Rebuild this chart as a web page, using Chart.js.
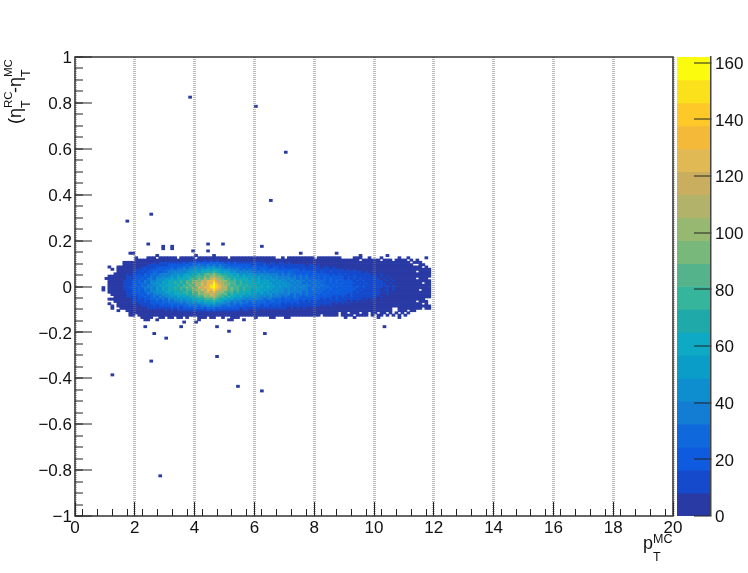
<!DOCTYPE html>
<html>
<head>
<meta charset="utf-8">
<title>eta resolution vs pT</title>
<script src="https://cdn.jsdelivr.net/npm/chart.js@4"></script>
<style>
  html, body { margin: 0; padding: 0; background: #fff; }
  #main { position: absolute; left: 0; top: 0; }
  #bar { position: absolute; left: 677px; top: 0; }
</style>
</head>
<body>
<canvas id="main" width="748" height="573"></canvas>
<canvas id="bar" width="71" height="573"></canvas>
<script>
// bin widths of the histogram
const binX = 0.1;
const binY = 0.01;
const firstBin = 9; // first column of the rows below is pT = 0.9

// counts per cell, one list per eta row (p12 = 0.12..0.13, m3 = -0.03..-0.02)
const p12 = [0,0,0,0,0,0,0,0,0,0, 0,1,0,0,0,1,1,1,0,1, 1,1,1,1,1,0,1,1,1,1, 1,0,1,1,1,2,1,2,1,1, 1,1,0,1,1,2,1,1,1,2, 1,1,1,2,1,1,1,1,0,0, 1,0,1,1,1,2,1,1,1,1, 1,0,1,1,1,1,1,1,1,1, 0,0,0,0,1,1,1,0,0,1, 0,0,0,1,0,0,0,0,0,1, 0,0,1,0,0,0,0,0,1,0,0];
const p11 = [0,0,0,0,0,0,0,0,0,0, 0,1,1,2,3,2,4,3,3,5, 4,6,5,4,7,6,5,7,8,6, 7,9,6,8,10,8,9,7,9,8, 6,8,7,5,7,6,4,6,5,6, 4,5,6,3,5,4,5,3,4,4, 3,4,2,4,3,2,3,4,2,3, 2,3,1,2,3,2,1,2,2,1, 1,2,1,1,2,1,0,1,1,1, 1,1,1,0,1,1,1,0,1,1, 1,1,0,1,0,1,0,0,0,0,0];
const p10 = [0,0,0,0,0,0,0,1,1,2, 2,3,4,3,6,5,7,9,8,11, 10,12,14,11,16,13,15,18,14,19, 17,22,18,24,20,23,26,21,25,18, 20,16,19,14,17,15,12,14,13,11, 13,9,12,10,11,8,10,11,8,9, 10,7,9,8,6,8,7,5,7,6, 5,6,4,5,6,4,5,3,4,5, 3,4,2,3,3,2,4,2,2,3, 2,1,2,2,1,1,2,1,1,1, 1,1,1,0,1,1,1,0,0,0,0];
const p9 = [0,0,0,0,0,0,0,1,2,2, 4,4,6,7,6,10,9,12,14,11, 16,15,19,17,21,18,24,20,26,23, 28,25,33,27,31,36,30,37,29,33, 25,28,22,24,19,23,21,17,20,18, 15,19,16,14,18,13,15,16,12,14, 11,13,14,10,12,9,11,10,8,10, 9,7,9,8,6,8,7,6,7,5, 6,5,4,6,4,3,5,4,2,4, 3,2,3,3,1,2,3,1,2,1, 2,1,1,1,0,0,1,1,0,0,0];
const p8 = [0,0,1,0,0,2,2,3,3,5, 6,7,8,11,9,13,16,14,18,21, 19,24,21,27,24,30,26,33,29,36, 34,41,37,45,39,48,43,51,40,46, 36,32,38,28,31,26,29,24,27,22, 25,20,23,18,21,22,16,19,17,15, 18,13,16,14,12,15,11,13,12,10, 11,9,12,8,10,9,7,9,8,6, 7,8,5,7,5,6,4,6,5,3, 5,3,4,2,3,3,2,3,2,2, 2,1,2,1,1,1,1,0,1,0,0];
const p7 = [0,0,0,1,0,2,3,4,6,5, 8,11,10,14,17,15,20,23,19,27, 24,30,27,34,30,37,33,41,36,45, 43,50,46,55,52,62,55,64,58,54, 47,42,48,36,39,34,31,37,28,33, 26,30,24,28,29,22,25,27,20,23, 19,22,24,17,20,18,15,19,16,14, 16,13,15,12,14,11,13,10,12,9, 11,8,10,7,9,8,7,8,5,7, 6,4,6,5,4,5,3,4,3,2, 3,2,2,1,2,1,1,1,1,1,0];
const p6 = [0,0,0,0,0,2,3,6,5,8, 11,9,14,17,15,22,20,26,29,24, 32,29,36,33,41,37,44,39,48,54, 50,59,55,66,60,71,66,80,68,64, 56,61,50,45,52,39,43,37,41,34, 38,31,35,28,36,26,32,29,25,30, 27,23,25,28,20,23,18,22,19,21, 17,20,15,18,13,16,19,12,15,13, 14,10,13,12,9,11,10,8,9,7, 9,6,7,6,5,6,4,5,3,4, 3,3,3,2,3,0,2,1,1,1,0];
const p5 = [0,0,0,0,1,2,4,5,9,8, 14,12,19,16,25,22,29,33,27,38, 34,41,38,47,43,51,46,56,60,54, 69,62,76,71,84,90,82,101,86,78, 71,66,57,62,50,58,45,54,43,49, 41,46,37,44,34,41,36,33,38,30, 34,28,33,26,30,24,28,22,27,21, 24,20,23,17,21,19,16,20,14,18, 15,17,12,15,13,11,14,9,12,10, 8,10,7,9,8,6,7,5,6,4, 4,3,4,3,3,2,2,1,2,1,0];
const p4 = [0,0,1,1,2,4,4,7,10,11, 13,19,17,24,27,23,33,30,39,36, 44,40,48,54,47,59,52,63,57,72, 66,79,84,75,96,88,104,112,95,90, 82,74,66,72,59,67,52,60,55,49, 53,46,51,43,48,41,46,38,43,36, 40,33,38,31,35,29,36,26,33,24, 29,23,27,21,25,22,19,23,17,21, 18,16,19,14,17,13,16,11,13,12, 10,12,8,10,7,9,6,7,6,5, 5,4,5,3,4,2,2,2,1,1,0];
const p3 = [0,1,2,2,3,5,5,8,11,14, 15,21,18,27,24,33,37,31,44,41, 47,53,49,59,54,66,61,70,64,80, 86,75,95,88,108,97,117,126,106,98, 90,79,85,70,74,64,68,59,66,55, 61,50,57,47,54,44,52,41,47,38, 45,36,41,33,39,30,37,28,35,26, 32,24,31,22,28,21,26,19,24,17, 23,16,21,15,19,13,17,12,15,10, 14,9,12,8,11,7,9,6,8,5, 5,4,5,3,4,0,3,1,2,0,0];
const p2 = [0,0,2,3,4,5,7,9,13,13, 20,17,26,23,34,30,41,37,48,44, 55,50,62,57,67,61,74,69,82,77, 92,103,94,115,106,122,131,140,116,108, 99,105,84,76,83,69,74,63,70,58, 66,53,60,56,51,58,47,54,44,50, 41,47,39,45,35,42,33,38,30,36, 27,33,29,25,31,23,28,21,26,19, 23,20,18,21,16,19,14,17,12,15, 11,13,10,12,7,10,6,9,5,7, 6,5,5,4,5,3,3,2,2,1,0];
const p1 = [0,0,2,3,4,7,6,12,10,16, 21,19,28,25,37,32,45,41,52,48, 60,55,67,62,73,68,78,72,91,84, 100,110,98,126,114,137,128,154,132,118, 107,96,90,81,88,71,79,67,72,64, 69,58,64,54,61,50,57,48,53,45, 50,42,47,39,44,36,42,32,39,31, 36,28,34,26,31,24,29,22,27,20, 25,18,23,17,21,15,19,14,17,13, 15,11,14,9,12,8,10,7,8,6, 6,5,6,4,5,3,3,0,3,1,0];
const p0 = [0,0,2,3,5,5,8,10,14,15, 18,25,22,33,29,41,36,48,43,58, 52,63,58,72,64,80,70,87,78,96, 89,114,104,126,119,136,147,161,139,127, 112,98,91,79,87,74,80,69,75,65, 62,70,56,65,53,59,50,56,47,53, 44,49,42,46,38,43,35,41,33,38, 30,35,27,33,25,31,23,28,21,26, 19,24,18,22,16,20,14,18,12,16, 11,14,10,12,9,11,7,9,6,7, 6,5,6,4,5,3,3,2,3,1,0];
const m1 = [1,0,2,3,4,7,7,12,12,18, 20,23,30,26,38,34,44,39,54,47, 61,56,66,60,75,68,83,74,93,86, 108,97,122,115,134,127,148,164,141,122, 106,114,87,94,78,85,71,78,68,72, 60,66,59,63,52,58,51,55,46,50, 48,43,47,40,45,37,41,34,39,32, 35,29,34,27,30,26,28,22,25,23, 20,23,18,20,17,19,15,17,13,15, 12,14,10,11,8,11,8,9,6,8, 6,5,6,4,5,3,3,2,3,1,0];
const m2 = [1,0,2,3,5,5,7,10,13,15, 22,20,27,24,36,31,47,40,50,45, 58,51,69,61,70,65,76,71,88,80, 97,110,101,123,112,139,126,150,128,116, 101,109,83,90,76,84,66,76,65,71, 55,64,58,52,60,49,56,46,52,44, 47,40,46,37,44,34,40,33,36,31, 34,26,32,25,29,23,27,24,22,26, 18,21,19,17,20,15,18,13,16,12, 14,10,13,8,11,9,7,9,6,7, 6,5,5,4,5,3,0,1,2,1,0];
const m3 = [0,0,2,2,4,6,5,8,12,14, 19,17,25,22,31,35,37,44,41,50, 47,57,60,52,68,61,66,74,79,71, 92,84,106,95,116,126,120,136,113,105, 98,88,79,83,70,74,62,69,64,57, 54,62,50,57,48,52,45,50,42,46, 41,38,43,35,40,33,37,30,35,28, 31,29,25,30,23,28,24,21,26,19, 22,19,17,20,15,18,13,16,14,11, 13,11,9,11,8,10,6,8,6,6, 5,4,5,3,4,2,2,2,2,1,0];
const m4 = [0,0,0,2,3,4,6,7,11,12, 17,20,18,27,24,33,30,39,42,37, 50,46,55,51,62,57,65,59,78,70, 89,80,100,91,111,104,124,118,101,97, 82,91,72,78,63,69,58,66,53,61, 49,56,45,51,47,43,49,40,44,36, 39,35,41,32,37,30,35,27,33,25, 30,24,27,21,26,23,19,24,17,22, 17,20,15,18,14,16,12,15,13,10, 12,9,11,8,7,9,6,7,5,5, 5,4,4,3,3,2,2,1,2,1,0];
const m5 = [0,0,0,0,2,3,5,6,10,10, 15,14,21,19,27,24,32,36,29,43, 37,47,41,52,46,58,50,64,56,72, 66,76,87,79,98,90,104,114,90,84, 76,68,73,58,64,54,60,48,56,45, 51,42,48,39,46,36,43,38,33,40, 30,35,32,28,34,26,30,23,28,25, 21,27,20,24,18,23,19,16,21,15, 17,16,13,17,12,15,11,13,10,12, 9,11,7,9,7,8,5,7,4,4, 4,3,4,3,3,2,2,1,2,1,0];
const m6 = [0,0,1,1,1,2,4,5,8,8, 13,11,17,15,23,19,28,25,33,30, 36,32,43,38,47,42,53,46,56,51, 64,58,72,66,80,88,76,92,73,68, 63,57,52,60,44,50,42,47,38,44, 35,41,33,38,30,36,33,27,32,29, 24,30,26,22,28,25,20,26,18,23, 21,17,22,16,19,15,20,14,17,13, 16,12,15,11,13,10,12,8,11,7, 9,7,8,6,6,7,4,5,4,3, 3,3,3,2,2,1,1,1,0,0,0];
const m7 = [0,0,0,0,1,2,3,5,7,7, 10,13,11,16,19,16,24,21,27,24, 31,28,35,32,39,34,43,37,48,44, 53,49,58,54,69,62,72,77,60,57, 51,45,49,38,43,35,40,31,36,30, 33,28,32,26,30,24,28,25,21,27, 19,24,20,22,17,21,16,20,14,18, 15,17,13,16,12,15,11,14,10,13, 10,12,8,11,8,10,7,9,6,7, 7,5,6,5,4,6,3,4,3,3, 3,2,3,2,2,0,1,1,1,0,0];
const m8 = [0,0,1,0,0,1,3,4,5,6, 9,8,13,11,16,14,20,18,24,21, 26,23,29,25,32,28,36,30,39,34, 43,38,47,42,51,56,49,60,45,48, 41,36,39,31,35,28,33,25,30,24, 27,22,26,20,25,19,23,21,17,22, 16,19,15,18,14,17,13,16,12,15, 11,14,10,13,9,12,10,8,11,8, 10,7,9,6,8,7,5,7,5,5, 6,4,5,3,4,4,2,3,3,2, 2,2,2,1,1,1,1,0,1,0,0];
const m9 = [0,0,0,1,0,1,2,4,3,6, 7,9,8,12,10,15,13,17,14,20, 18,22,19,25,21,27,24,30,26,33, 29,36,32,39,35,42,37,44,34,38, 31,27,33,25,28,22,26,20,24,19, 22,17,21,16,20,18,15,19,14,17, 13,16,12,15,13,11,14,10,13,9, 11,9,12,8,10,7,9,8,7,8, 6,8,5,7,6,4,6,5,4,4, 5,3,4,3,2,3,2,3,2,2, 1,1,1,1,1,1,1,1,1,1,0];
const m10 = [0,0,0,1,0,0,1,3,2,4, 5,4,7,6,8,10,9,12,10,14, 12,15,13,17,15,19,16,21,18,23, 20,25,22,27,24,30,26,31,24,27, 21,23,18,20,17,19,15,17,14,16, 13,15,12,14,11,13,12,10,11,12, 9,11,8,10,8,9,7,9,7,8, 6,8,5,7,6,5,6,4,5,5, 4,5,3,4,4,3,4,2,3,2, 2,3,2,2,2,1,2,0,0,1, 1,1,1,1,1,1,1,0,1,1,0];
const m11 = [0,0,0,0,0,1,0,0,1,2, 3,2,4,3,5,6,5,7,6,8, 7,9,8,10,8,11,10,12,10,13, 12,14,12,15,14,17,15,18,13,15, 12,13,11,12,9,11,8,10,9,8, 7,9,6,8,7,6,8,5,7,6, 5,6,5,6,4,5,4,6,4,5, 3,4,4,3,4,3,3,4,2,3, 2,3,2,2,2,1,2,1,2,1, 1,2,1,1,1,1,1,0,0,1, 1,1,0,1,1,0,0,0,0,0,0];
const m12 = [0,0,0,0,0,0,0,0,0,1, 1,2,1,2,2,3,2,3,3,4, 3,4,4,3,5,4,4,5,5,6, 5,6,5,7,6,8,7,8,6,7, 5,6,5,5,4,5,4,5,3,4, 3,4,3,4,3,2,3,3,2,3, 3,2,3,2,2,3,2,2,2,1, 2,2,1,2,1,2,1,1,2,0, 1,2,0,1,1,1,0,1,1,0, 1,1,0,1,1,0,1,0,1,0, 1,0,1,0,0,0,0,0,0,0,0];
const m13 = [0,0,0,0,0,0,0,0,0,1, 1,0,1,1,1,1,2,1,1,2, 1,2,1,1,2,2,1,2,2,1, 2,2,1,3,2,2,3,2,2,2, 1,2,2,2,1,2,1,1,2,1, 1,1,2,1,1,1,2,1,1,1, 1,1,1,2,1,1,1,1,1,1, 1,1,1,0,1,1,1,1,1,0, 1,1,1,1,0,1,1,1,1,0, 1,0,1,1,0,1,0,1,0,1, 0,1,0,0,0,0,0,0,0,0,0];

const etaRows = [12,11,10,9,8,7,6,5,4,3,2,1,0,-1,-2,-3,-4,-5,-6,-7,-8,-9,-10,-11,-12,-13];
const rowCounts = [p12,p11,p10,p9,p8,p7,p6,p5,p4,p3,p2,p1,p0,m1,m2,m3,m4,m5,m6,m7,m8,m9,m10,m11,m12,m13];

// single entries away from the main band: column and eta row of each
const strayCols = [38,60,70,65,25,17,24,29,29,32,32,44,49,39,44,62,18,19,27,40,46,75,87,95,104,
  22,23,24,25,28,29,31,32,34,35,37,41,42,43,45,46,49,52,53,54,60,65,66,70,71,90,93,101,108,
  23,24,27,41,51,52,56,36,40,23,35,47,103,51,26,63,30,47,25,12,54,62,28];
const strayRows = [82,78,58,37,31,28,18,16,17,16,17,18,18,15,15,17,14,14,13,13,13,14,14,13,13,
  -14,-14,-14,-14,-14,-14,-14,-14,-14,-14,-14,-14,-14,-14,-14,-14,-14,-14,-14,-14,-14,-14,-14,-14,-14,-14,-14,-14,-14,
  -15,-15,-15,-15,-15,-15,-15,-16,-16,-18,-18,-18,-18,-20,-21,-21,-23,-31,-33,-39,-44,-46,-83];

// colour bar, bottom to top
const bandEdges = [0,8.1,16.2,24.3,32.4,40.5,48.6,56.7,64.8,72.9,81,89.1,97.2,105.3,113.4,121.5,129.6,137.7,145.8,153.9,162];
const bandColors = ['#2a3aa5','#154acc','#0f5bdf','#1069dc','#137dd4','#0e8ecf','#0a9dc8','#0ea9c4','#1fa9a8','#35b59c',
  '#55b38c','#78b87a','#96b870','#b2b26a','#c9ae60','#e0b955','#f5b93a','#fec928','#fbe01c','#fbfb0e'];

const xTicks = [0,2,4,6,8,10,12,14,16,18,20];
const yTicks = [-1,-0.8,-0.6,-0.4,-0.2,0,0.2,0.4,0.6,0.8,1];
const zTicks = [0,20,40,60,80,100,120,140,160];

const inkColor = '#222';
Chart.defaults.font.family = '"Liberation Sans", Arial, sans-serif';
Chart.defaults.font.size = 17;
Chart.defaults.color = '#111';
Chart.defaults.animation = false;

const bandOf = v => {
  let b = 0;
  while (b < bandColors.length - 1 && v >= bandEdges[b + 1]) b++;
  return b;
};

// one dataset per colour band, every cell a floating bar
const cells = bandColors.map(() => []);
const addCell = (col, row, v) => {
  cells[bandOf(v)].push({ x: (col + 0.5) * binX, y: [row * binY, (row + 1) * binY] });
};
rowCounts.forEach((counts, i) => {
  counts.forEach((v, j) => {
    if (v > 0) addCell(firstBin + j, etaRows[i], v);
  });
});
strayCols.forEach((col, i) => addCell(col, strayRows[i], 1));

const minus = s => String(s).replace('-', '\u2212');
const fixTicks = list => scale => { scale.ticks = list.map(v => ({ value: v })); };

// ROOT style frame and the axis titles with sub/superscripts
const framePlugin = {
  id: 'frameAndTitles',
  afterDraw(chart) {
    const { ctx, chartArea: a } = chart;
    ctx.save();
    ctx.strokeStyle = '#333';
    ctx.lineWidth = 1.5;
    ctx.strokeRect(a.left, a.top, a.right - a.left, a.bottom - a.top);
    ctx.fillStyle = '#111';
    ctx.textBaseline = 'alphabetic';
    const big = '18px "Liberation Sans"';
    const small = '12.5px "Liberation Sans"';
    const put = (txt, x, y, font) => { ctx.font = font; ctx.fillText(txt, x, y); };
    // x title
    put('p', 643, 549, big);
    put('MC', 653, 543, small);
    put('T', 653, 561, small);
    // y title
    ctx.translate(21, 124);
    ctx.rotate(-Math.PI / 2);
    put('(\u03b7', 0, 0, big);
    put('RC', 16, -9, '11.5px "Liberation Sans"');
    put('T', 16, 9, small);
    put('-\u03b7', 31, 0, big);
    put('MC', 47, -9, '11.5px "Liberation Sans"');
    put('T', 47, 9, small);
    ctx.restore();
  }
};

new Chart(document.getElementById('main'), {
  type: 'bar',
  data: {
    datasets: bandColors.map((c, i) => ({
      data: cells[i],
      backgroundColor: c,
      xAxisID: 'x',
      yAxisID: 'y'
    }))
  },
  plugins: [framePlugin],
  options: {
    responsive: false,
    layout: { padding: { top: 57, right: 75, left: 0, bottom: 0 } },
    plugins: { legend: { display: false }, tooltip: { enabled: false } },
    datasets: { bar: { grouped: false, barThickness: 3 } },
    scales: {
      x: {
        type: 'linear', min: 0, max: 20, offset: false, weight: 1,
        afterBuildTicks: fixTicks(xTicks),
        afterFit(s) { s.height = 57; },
        ticks: { maxRotation: 0, autoSkip: false, padding: 16 },
        border: { display: false, dash: [1, 1] },
        grid: { z: 1, color: 'rgba(120,120,120,0.5)', lineWidth: 3, tickColor: inkColor, tickLength: -14, tickWidth: 1, offset: false }
      },
      xMinor: {
        type: 'linear', position: 'bottom', min: 0, max: 20, offset: false, weight: 0,
        afterFit(s) { s.height = 0; },
        ticks: { stepSize: 0.5, display: false, autoSkip: false },
        border: { display: false },
        grid: { z: 1, drawOnChartArea: false, tickColor: inkColor, tickLength: -7, tickWidth: 1 }
      },
      y: {
        type: 'linear', min: -1, max: 1, weight: 1,
        afterBuildTicks: fixTicks(yTicks),
        afterFit(s) { s.width = 75; },
        ticks: { padding: 20, labelOffset: 1.5, autoSkip: false, callback: v => minus(v) },
        border: { display: false },
        grid: { drawOnChartArea: false, lineWidth: 0, z: 1, tickColor: inkColor, tickLength: -17, tickWidth: 1 }
      },
      yMinor: {
        type: 'linear', position: 'left', min: -1, max: 1, weight: 0,
        afterFit(s) { s.width = 0; },
        ticks: { stepSize: 0.05, display: false, autoSkip: false },
        border: { display: false },
        grid: { z: 1, drawOnChartArea: false, lineWidth: 0, tickColor: inkColor, tickLength: -8, tickWidth: 1 }
      }
    }
  }
});

// colour scale
new Chart(document.getElementById('bar'), {
  type: 'bar',
  data: {
    datasets: [{
      data: bandColors.map((c, i) => ({ x: 0.5, y: [bandEdges[i], bandEdges[i + 1]] })),
      backgroundColor: bandColors,
      barThickness: 34
    }]
  },
  options: {
    responsive: false,
    layout: { padding: { top: 57, bottom: 57, left: 0, right: 0 } },
    plugins: { legend: { display: false }, tooltip: { enabled: false } },
    scales: {
      x: { type: 'linear', min: 0, max: 1, offset: false, display: false },
      y: {
        type: 'linear', position: 'right', min: 0, max: 162,
        afterBuildTicks: fixTicks(zTicks),
        afterFit(s) { s.width = 37; },
        ticks: { padding: 21, labelOffset: 1.5, autoSkip: false },
        border: { color: '#444', width: 1.5, z: 1 },
        grid: { drawOnChartArea: false, lineWidth: 0, z: 1, tickColor: inkColor, tickLength: -17, tickWidth: 1 }
      }
    }
  }
});
</script>
</body>
</html>
